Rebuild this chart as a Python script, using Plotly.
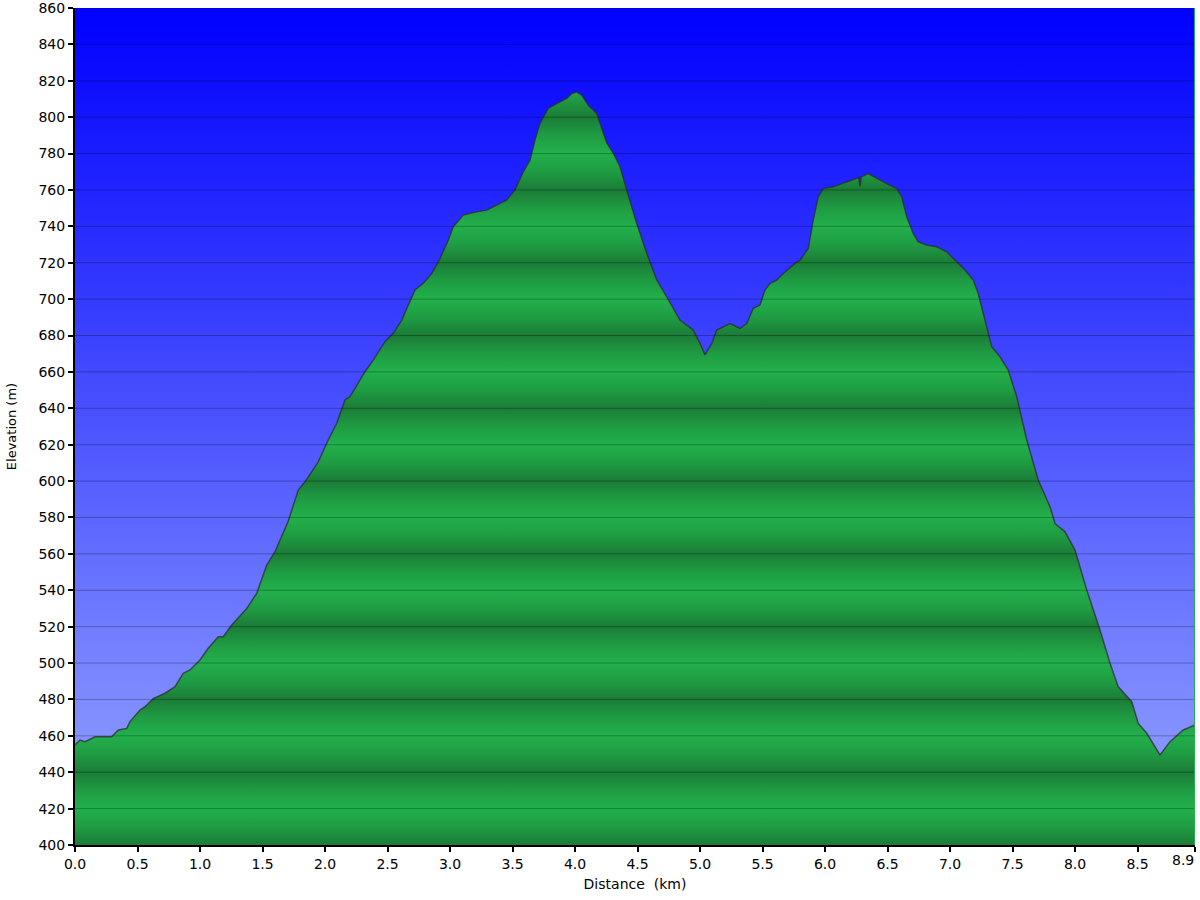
import plotly.graph_objects as go

distance_km = [0.000, 0.040, 0.080, 0.160, 0.294, 0.346, 0.414, 0.440, 0.520, 0.560,
               0.626, 0.720, 0.800, 0.866, 0.920, 1.000, 1.066, 1.146, 1.186, 1.254,
               1.374, 1.454, 1.534, 1.600, 1.706, 1.786, 1.840, 1.946, 2.026, 2.094,
               2.160, 2.200, 2.320, 2.386, 2.480, 2.546, 2.614, 2.720, 2.786, 2.854,
               2.920, 2.986, 3.026, 3.106, 3.214, 3.294, 3.374, 3.454, 3.520, 3.586,
               3.640, 3.680, 3.720, 3.786, 3.854, 3.934, 3.974, 4.014, 4.054, 4.106,
               4.174, 4.200, 4.254, 4.306, 4.360, 4.414, 4.494, 4.574, 4.654, 4.734,
               4.840, 4.946, 5.000, 5.040, 5.094, 5.134, 5.240, 5.320, 5.374, 5.426,
               5.480, 5.520, 5.560, 5.614, 5.666, 5.760, 5.800, 5.866, 5.906, 5.946,
               5.986, 6.066, 6.174, 6.270, 6.280, 6.290, 6.346, 6.414, 6.494, 6.574,
               6.614, 6.654, 6.706, 6.746, 6.814, 6.894, 6.974, 7.054, 7.120, 7.186,
               7.226, 7.266, 7.334, 7.400, 7.466, 7.534, 7.614, 7.706, 7.800, 7.840,
               7.920, 8.000, 8.094, 8.200, 8.280, 8.346, 8.454, 8.506, 8.574, 8.680,
               8.760, 8.866, 8.946, 8.960]
elevation_m = [455.0, 457.7, 456.8, 459.5, 459.5, 463.2, 464.1, 467.8, 474.2, 476.0,
               480.5, 483.4, 487.0, 494.3, 496.2, 501.7, 508.1, 514.5, 514.5, 520.9,
               530.0, 538.3, 553.9, 561.2, 578.0, 595.1, 599.6, 610.6, 622.6, 631.8,
               644.6, 646.4, 660.1, 666.5, 676.6, 681.2, 688.5, 705.0, 708.7, 714.1,
               722.3, 732.4, 739.8, 746.2, 748.0, 748.9, 751.7, 754.5, 760.0, 770.0,
               776.4, 787.4, 796.6, 804.8, 807.5, 810.3, 813.0, 813.9, 812.1, 806.6,
               802.0, 796.6, 785.8, 780.3, 772.9, 760.0, 741.6, 725.2, 710.5, 701.3,
               688.5, 683.0, 675.7, 669.3, 675.7, 683.0, 686.6, 683.9, 686.6, 694.9,
               696.8, 705.0, 708.7, 710.5, 714.1, 719.6, 721.4, 727.8, 743.4, 756.3,
               760.8, 761.7, 764.4, 766.8, 762.0, 767.2, 769.0, 766.3, 763.5, 760.8,
               756.3, 745.3, 736.1, 731.5, 729.7, 728.8, 726.0, 720.5, 716.0, 710.5,
               703.1, 692.2, 673.9, 668.3, 661.0, 646.4, 622.6, 600.6, 585.9, 576.7,
               572.1, 562.1, 540.1, 518.2, 499.9, 486.9, 478.8, 466.8, 461.4, 449.5,
               456.8, 463.2, 465.9, 466.0]

x_tick_vals = [0.0, 0.5, 1.0, 1.5, 2.0, 2.5, 3.0, 3.5, 4.0, 4.5, 5.0, 5.5, 6.0,
               6.5, 7.0, 7.5, 8.0, 8.5, 8.96]
x_tick_text = ["0.0", "0.5", "1.0", "1.5", "2.0", "2.5", "3.0", "3.5", "4.0", "4.5",
               "5.0", "5.5", "6.0", "6.5", "7.0", "7.5", "8.0", "8.5", "8.9"]
y_tick_vals = list(range(400, 861, 20))

y_min, y_max = 400, 860
x_min, x_max = 0.0, 8.96

DARK = "rgb(27,124,55)"
MID = "rgb(31,156,67)"
LIGHT = "rgb(34,176,76)"

# banded green colorscale: dark at every 40 m from 400, light in between
green_scale = []
span = y_max - y_min
for e in range(y_min, y_max + 1, 10):
    off = (e - y_min) % 40
    if off == 0:
        c = DARK
    elif off == 20:
        c = LIGHT
    else:
        c = MID
    green_scale.append([(e - y_min) / span, c])

fig = go.Figure()

# sky background gradient
fig.add_trace(go.Scatter(
    x=[x_min, x_max, x_max, x_min, x_min],
    y=[y_min, y_min, y_max, y_max, y_min],
    mode="none", fill="toself", hoverinfo="skip", showlegend=False,
    fillgradient=dict(type="vertical", start=y_min, stop=y_max,
                      colorscale=[[0, "rgb(152,168,255)"], [1, "rgb(0,0,255)"]]),
))

# elevation profile
fig.add_trace(go.Scatter(
    x=distance_km, y=elevation_m, mode="lines", fill="tozeroy",
    line=dict(color="rgba(45,45,45,0.75)", width=1.5),
    fillgradient=dict(type="vertical", start=y_min, stop=y_max,
                      colorscale=green_scale),
    showlegend=False, hoverinfo="x+y",
))

shapes = []
for v in y_tick_vals[1:]:
    shapes.append(dict(type="line", xref="paper", yref="y", x0=0, x1=1, y0=v, y1=v,
                       line=dict(color="rgba(0,0,0,0.28)", width=1), layer="above"))
shapes.append(dict(type="line", xref="x", yref="paper", x0=x_max, x1=x_max, y0=0, y1=1,
                   line=dict(color="rgb(34,176,76)", width=2), layer="above"))

tick_font = dict(family="DejaVu Sans", size=14, color="black")

# last x tick label kept inside the figure, right-aligned at the axis end
annotations = [dict(x=x_tick_vals[-1], xref="x", y=0, yref="paper",
                    text=x_tick_text[-1], showarrow=False, xanchor="right",
                    yanchor="top", yshift=-5, xshift=1, font=tick_font)]

fig.update_layout(
    width=1200, height=900,
    margin=dict(l=75, r=5, t=8, b=55, autoexpand=False),
    paper_bgcolor="white", plot_bgcolor="white",
    shapes=shapes, annotations=annotations,
    font=tick_font,
    xaxis=dict(
        range=[x_min, x_max], tickvals=x_tick_vals,
        ticktext=x_tick_text[:-1] + [""],
        showgrid=False, zeroline=False, showline=True, linecolor="black", linewidth=2,
        ticks="outside", ticklen=5, tickwidth=1.5, tickcolor="black",
        tickfont=tick_font, automargin=False,
        title=dict(text="Distance&nbsp;&nbsp;(km)", font=dict(family="DejaVu Sans", size=14), standoff=8),
        layer="above traces",
    ),
    yaxis=dict(
        range=[y_min, y_max], tickvals=y_tick_vals,
        showgrid=False, zeroline=False, showline=True, linecolor="black", linewidth=2,
        ticks="outside", ticklen=5, tickwidth=1.5, tickcolor="black",
        tickfont=tick_font, ticklabeloverflow="allow", automargin=False,
        title=dict(text="Elevation (m)", font=dict(family="DejaVu Sans", size=13), standoff=19),
        layer="above traces",
    ),
)

fig.write_html("out.html", config={"displayModeBar": False},
               post_script="document.body.style.margin='0';document.body.style.overflow='hidden';")
